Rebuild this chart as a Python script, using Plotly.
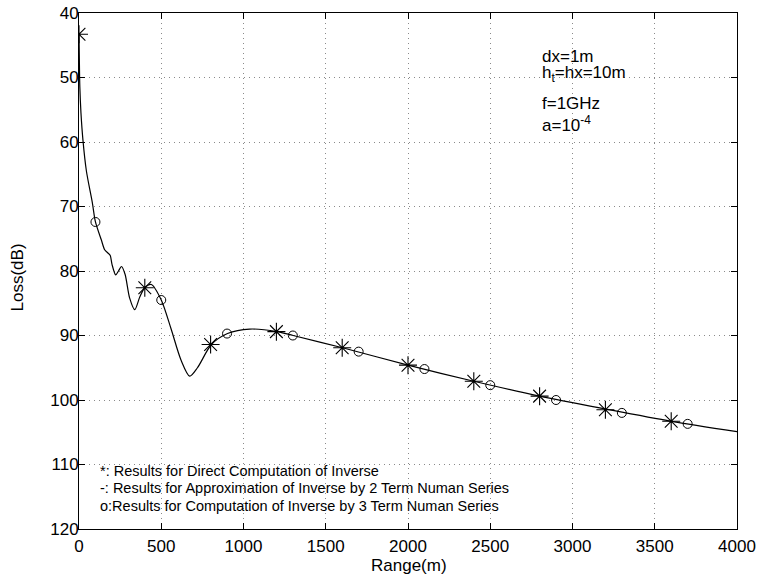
import plotly.graph_objects as go

# Continuous curve (2-term Neumann series approximation)
curve_range = [0, 2, 5, 12, 24, 45, 81, 100, 136, 156, 180, 190, 201, 223, 240, 258,
               280, 308, 339, 370, 400, 440, 500, 560, 620, 673, 720, 805, 903, 1038,
               1204, 1302, 1602, 2000, 2400, 2800, 3200, 3600, 4000]
curve_loss = [43.3, 47.0, 51.4, 55.5, 59.7, 64.5, 69.4, 72.4, 75.2, 76.7, 77.3, 77.6,
              79.0, 80.6, 80.0, 79.3, 80.5, 84.2, 86.0, 84.0, 82.6, 82.1, 84.5, 89.0,
              93.8, 96.3, 95.0, 91.4, 89.7, 89.0, 89.4, 90.0, 91.9, 94.6, 97.1, 99.4,
              101.4, 103.3, 104.9]

# Direct computation of inverse (*)
star_range = [0, 400, 800, 1200, 1600, 2000, 2400, 2800, 3200, 3600]
star_loss = [43.3, 82.6, 91.4, 89.4, 91.9, 94.6, 97.1, 99.4, 101.5, 103.3]

# 3-term Neumann series (o)
circ_range = [100, 500, 900, 1300, 1700, 2100, 2500, 2900, 3300, 3700]
circ_loss = [72.4, 84.5, 89.7, 90.0, 92.5, 95.2, 97.7, 100.0, 102.0, 103.7]

x_ticks = [0, 500, 1000, 1500, 2000, 2500, 3000, 3500, 4000]
y_ticks = [40, 50, 60, 70, 80, 90, 100, 110, 120]

legend_lines = [
    "*: Results for Direct Computation of Inverse",
    "-: Results for Approximation of Inverse by 2 Term Numan Series",
    "o:Results for Computation of Inverse by 3 Term Numan Series",
]
param_lines = ["dx=1m", "h<sub>t</sub>=hx=10m", "f=1GHz", "a=10<sup>-4</sup>"]

FONT = "Liberation Sans, Arial, Helvetica, sans-serif"

fig = go.Figure()
fig.add_trace(go.Scatter(x=curve_range, y=curve_loss, mode="lines",
                         line=dict(color="black", width=1.2, shape="spline", smoothing=0.8),
                         showlegend=False, hoverinfo="skip"))
fig.add_trace(go.Scatter(x=star_range, y=star_loss, mode="markers",
                         marker=dict(symbol="asterisk-open", size=15, color="black",
                                     line=dict(color="black", width=1.1)),
                         showlegend=False))
fig.add_trace(go.Scatter(x=circ_range, y=circ_loss, mode="markers",
                         marker=dict(symbol="circle-open", size=9, color="black",
                                     line=dict(color="black", width=1)),
                         showlegend=False))

axis_common = dict(showline=True, linecolor="black", linewidth=1, mirror="ticks",
                   ticks="inside", ticklen=6, tickcolor="black", automargin=False,
                   ticklabeloverflow="allow",
                   showgrid=True, gridcolor="#8a8a8a", gridwidth=1, griddash="1px,4px",
                   zeroline=False, tickfont=dict(family=FONT, size=17, color="black"))

fig.update_xaxes(range=[0, 4000], tickvals=x_ticks, ticktext=[str(v) for v in x_ticks],
                 ticklabelstandoff=2, **axis_common)
fig.update_yaxes(range=[120, 40], tickvals=y_ticks, ticktext=[str(v) for v in y_ticks],
                 ticklabelstandoff=-4, **axis_common)

annotations = []
legend_y = [111.0, 113.7, 116.5]
for t, yy in zip(legend_lines, legend_y):
    annotations.append(dict(x=0.0296, y=yy, xref="paper", yref="y", text=t,
                            showarrow=False, xanchor="left", yanchor="middle",
                            font=dict(family=FONT, size=14.5, color="black")))
param_y = [46.7, 49.5, 54.1, 57.2]
for t, yy in zip(param_lines, param_y):
    annotations.append(dict(x=0.7, y=yy, xref="paper", yref="y", text=t,
                            showarrow=False, xanchor="left", yanchor="middle",
                            font=dict(family=FONT, size=17, color="black")))
# axis titles
annotations.append(dict(x=0.501, y=-0.0698, xref="paper", yref="paper", text="Range(m)",
                        showarrow=False, xanchor="center", yanchor="middle",
                        font=dict(family=FONT, size=17, color="black")))
annotations.append(dict(x=(17 - 79) / 658, y=81.0, xref="paper", yref="y", text="Loss(dB)",
                        showarrow=False, xanchor="center", yanchor="middle", textangle=-90,
                        font=dict(family=FONT, size=17, color="black")))

fig.update_layout(width=759, height=577, margin=dict(l=79, r=22, t=13, b=48),
                  plot_bgcolor="white", paper_bgcolor="white",
                  annotations=annotations, showlegend=False,
                  font=dict(family=FONT, color="black"))

# remove the browser's default 8px body margin so the figure fills the window exactly
fig.write_html("out.html", config={"displayModeBar": False},
               post_script="document.body.style.margin='0';document.body.style.overflow='hidden';")
